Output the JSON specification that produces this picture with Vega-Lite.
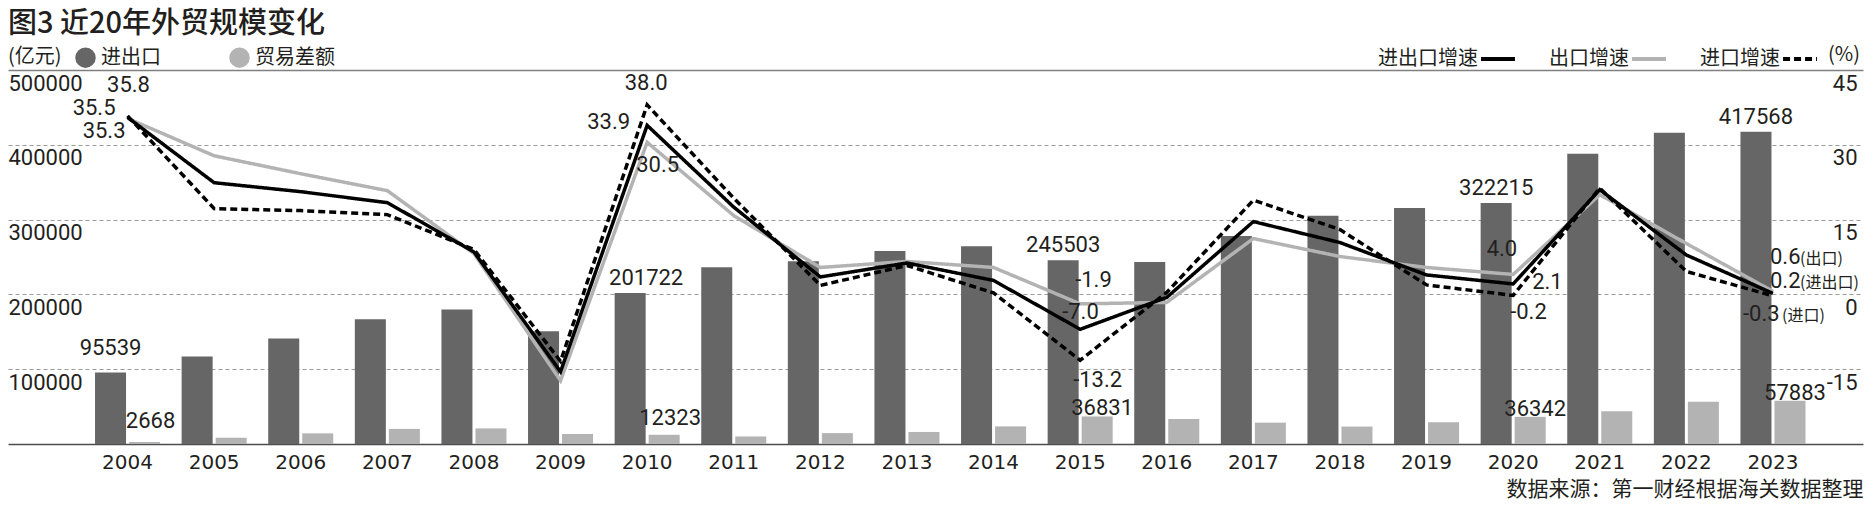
{
  "$schema": "https://vega.github.io/schema/vega-lite/v6.json",
  "width": 1855,
  "height": 374,
  "autosize": {"type": "none"},
  "padding": {"left": 8, "top": 70, "right": 10, "bottom": 61},
  "background": "white",
  "title": {
    "text": "图3 近20年外贸规模变化",
    "anchor": "start",
    "frame": "group",
    "font": "Noto Sans CJK SC",
    "fontSize": 29,
    "fontWeight": 500,
    "color": "#231f20",
    "dy": 3
  },
  "datasets": {
    "trade": [
      {"year": "2004", "series": "进出口", "value": 95539}, {"year": "2004", "series": "贸易差额", "value": 2668},
      {"year": "2005", "series": "进出口", "value": 116922}, {"year": "2005", "series": "贸易差额", "value": 8374},
      {"year": "2006", "series": "进出口", "value": 140974}, {"year": "2006", "series": "贸易差额", "value": 14221},
      {"year": "2007", "series": "进出口", "value": 166924}, {"year": "2007", "series": "贸易差额", "value": 20200},
      {"year": "2008", "series": "进出口", "value": 179921}, {"year": "2008", "series": "贸易差额", "value": 20868},
      {"year": "2009", "series": "进出口", "value": 150648}, {"year": "2009", "series": "贸易差额", "value": 13411},
      {"year": "2010", "series": "进出口", "value": 201722}, {"year": "2010", "series": "贸易差额", "value": 12323},
      {"year": "2011", "series": "进出口", "value": 236402}, {"year": "2011", "series": "贸易差额", "value": 10079},
      {"year": "2012", "series": "进出口", "value": 244160}, {"year": "2012", "series": "贸易差额", "value": 14558},
      {"year": "2013", "series": "进出口", "value": 258169}, {"year": "2013", "series": "贸易差额", "value": 16094},
      {"year": "2014", "series": "进出口", "value": 264242}, {"year": "2014", "series": "贸易差额", "value": 23526},
      {"year": "2015", "series": "进出口", "value": 245503}, {"year": "2015", "series": "贸易差额", "value": 36831},
      {"year": "2016", "series": "进出口", "value": 243386}, {"year": "2016", "series": "贸易差额", "value": 33452},
      {"year": "2017", "series": "进出口", "value": 278099}, {"year": "2017", "series": "贸易差额", "value": 28519},
      {"year": "2018", "series": "进出口", "value": 305010}, {"year": "2018", "series": "贸易差额", "value": 23303},
      {"year": "2019", "series": "进出口", "value": 315627}, {"year": "2019", "series": "贸易差额", "value": 29088},
      {"year": "2020", "series": "进出口", "value": 322215}, {"year": "2020", "series": "贸易差额", "value": 36342},
      {"year": "2021", "series": "进出口", "value": 388000}, {"year": "2021", "series": "贸易差额", "value": 43687},
      {"year": "2022", "series": "进出口", "value": 416000}, {"year": "2022", "series": "贸易差额", "value": 56600},
      {"year": "2023", "series": "进出口", "value": 417568}, {"year": "2023", "series": "贸易差额", "value": 57883}
    ],
    "rates": [
      {"year": "2004", "series": "出口增速", "value": 35.3}, {"year": "2005", "series": "出口增速", "value": 27.8},
      {"year": "2006", "series": "出口增速", "value": 24.2}, {"year": "2007", "series": "出口增速", "value": 20.8},
      {"year": "2008", "series": "出口增速", "value": 8.2}, {"year": "2009", "series": "出口增速", "value": -17.3},
      {"year": "2010", "series": "出口增速", "value": 30.5}, {"year": "2011", "series": "出口增速", "value": 15.8},
      {"year": "2012", "series": "出口增速", "value": 5.4}, {"year": "2013", "series": "出口增速", "value": 6.6},
      {"year": "2014", "series": "出口增速", "value": 5.4}, {"year": "2015", "series": "出口增速", "value": -1.9},
      {"year": "2016", "series": "出口增速", "value": -1.6}, {"year": "2017", "series": "出口增速", "value": 11.2},
      {"year": "2018", "series": "出口增速", "value": 7.6}, {"year": "2019", "series": "出口增速", "value": 5.4},
      {"year": "2020", "series": "出口增速", "value": 4.0}, {"year": "2021", "series": "出口增速", "value": 20.0},
      {"year": "2022", "series": "出口增速", "value": 10.2}, {"year": "2023", "series": "出口增速", "value": 0.6},
      {"year": "2004", "series": "进出口增速", "value": 35.5}, {"year": "2005", "series": "进出口增速", "value": 22.4},
      {"year": "2006", "series": "进出口增速", "value": 20.6}, {"year": "2007", "series": "进出口增速", "value": 18.4},
      {"year": "2008", "series": "进出口增速", "value": 8.5}, {"year": "2009", "series": "进出口增速", "value": -15.5},
      {"year": "2010", "series": "进出口增速", "value": 33.9}, {"year": "2011", "series": "进出口增速", "value": 17.5},
      {"year": "2012", "series": "进出口增速", "value": 3.5}, {"year": "2013", "series": "进出口增速", "value": 6.3},
      {"year": "2014", "series": "进出口增速", "value": 2.8}, {"year": "2015", "series": "进出口增速", "value": -7.0},
      {"year": "2016", "series": "进出口增速", "value": -0.6}, {"year": "2017", "series": "进出口增速", "value": 14.6},
      {"year": "2018", "series": "进出口增速", "value": 10.4}, {"year": "2019", "series": "进出口增速", "value": 3.9},
      {"year": "2020", "series": "进出口增速", "value": 2.1}, {"year": "2021", "series": "进出口增速", "value": 21.0},
      {"year": "2022", "series": "进出口增速", "value": 7.9}, {"year": "2023", "series": "进出口增速", "value": 0.2},
      {"year": "2004", "series": "进口增速", "value": 35.8}, {"year": "2005", "series": "进口增速", "value": 17.2},
      {"year": "2006", "series": "进口增速", "value": 16.8}, {"year": "2007", "series": "进口增速", "value": 16.0},
      {"year": "2008", "series": "进口增速", "value": 9.0}, {"year": "2009", "series": "进口增速", "value": -13.4},
      {"year": "2010", "series": "进口增速", "value": 38.0}, {"year": "2011", "series": "进口增速", "value": 19.3},
      {"year": "2012", "series": "进口增速", "value": 1.8}, {"year": "2013", "series": "进口增速", "value": 5.8},
      {"year": "2014", "series": "进口增速", "value": 0.3}, {"year": "2015", "series": "进口增速", "value": -13.2},
      {"year": "2016", "series": "进口增速", "value": 0.4}, {"year": "2017", "series": "进口增速", "value": 18.9},
      {"year": "2018", "series": "进口增速", "value": 13.0}, {"year": "2019", "series": "进口增速", "value": 1.9},
      {"year": "2020", "series": "进口增速", "value": -0.2}, {"year": "2021", "series": "进口增速", "value": 21.3},
      {"year": "2022", "series": "进口增速", "value": 4.6}, {"year": "2023", "series": "进口增速", "value": -0.3}
    ],
    "rateLabels": [
      {"year": "2004", "series": "进口增速", "value": 35.8, "label": "35.8", "note": ""},
      {"year": "2004", "series": "进出口增速", "value": 35.5, "label": "35.5", "note": ""},
      {"year": "2004", "series": "出口增速", "value": 35.3, "label": "35.3", "note": ""},
      {"year": "2010", "series": "进口增速", "value": 38.0, "label": "38.0", "note": ""},
      {"year": "2010", "series": "进出口增速", "value": 33.9, "label": "33.9", "note": ""},
      {"year": "2010", "series": "出口增速", "value": 30.5, "label": "30.5", "note": ""},
      {"year": "2015", "series": "出口增速", "value": -1.9, "label": "-1.9", "note": ""},
      {"year": "2015", "series": "进出口增速", "value": -7.0, "label": "-7.0", "note": ""},
      {"year": "2015", "series": "进口增速", "value": -13.2, "label": "-13.2", "note": ""},
      {"year": "2020", "series": "出口增速", "value": 4.0, "label": "4.0", "note": ""},
      {"year": "2020", "series": "进出口增速", "value": 2.1, "label": "2.1", "note": ""},
      {"year": "2020", "series": "进口增速", "value": -0.2, "label": "-0.2", "note": ""},
      {"year": "2023", "series": "出口增速", "value": 0.6, "label": "0.6", "note": "(出口)"},
      {"year": "2023", "series": "进出口增速", "value": 0.2, "label": "0.2", "note": "(进出口)"},
      {"year": "2023", "series": "进口增速", "value": -0.3, "label": "-0.3", "note": "(进口)"}
    ]
  },
  "config": {
    "view": {"stroke": null},
    "text": {"font": "Roboto", "fontSize": 22, "color": "#231f20", "baseline": "alphabetic"},
    "legend": {
      "labelFont": "Noto Sans CJK SC", "labelFontSize": 20, "labelColor": "#231f20",
      "titleFont": "Noto Sans CJK SC", "titleFontSize": 20, "titleFontWeight": "normal", "titleColor": "#231f20",
      "padding": 0
    }
  },
  "encoding": {
    "x": {
      "field": "year", "type": "ordinal",
      "scale": {"paddingInner": 0, "paddingOuter": 0.71, "align": 0.62},
      "axis": {
        "orient": "bottom", "labelAngle": 0, "domain": true, "domainColor": "#4d4d4d", "domainWidth": 1.5,
        "ticks": false, "tickSize": 0, "grid": false,
        "labelFont": "DejaVu Sans", "labelFontSize": 20, "labelColor": "#231f20", "labelPadding": 8,
        "title": "数据来源：第一财经根据海关数据整理", "titleAnchor": "end", "titleAlign": "right",
        "titleFont": "Noto Sans CJK SC", "titleFontSize": 21, "titleFontWeight": "normal", "titleColor": "#231f20",
        "titlePadding": 6
      }
    }
  },
  "layer": [
    {
      "data": {"name": "trade"},
      "encoding": {
        "xOffset": {"field": "series", "type": "nominal", "scale": {"domain": ["进出口", "贸易差额"], "paddingInner": 0.088, "paddingOuter": 0.317}},
        "y": {
          "field": "value", "type": "quantitative",
          "scale": {"domain": [0, 500000], "nice": false},
          "axis": {
            "orient": "left", "values": [100000, 200000, 300000, 400000, 500000], "format": "d",
            "grid": true,
            "gridColor": {"condition": {"test": "datum.value === 500000", "value": "#808080"}, "value": "#9a9a9a"},
            "gridDash": {"condition": {"test": "datum.value === 500000", "value": []}, "value": [4, 3]},
            "gridWidth": {"condition": {"test": "datum.value === 500000", "value": 1.5}, "value": 1},
            "domain": false, "ticks": false, "tickSize": 0,
            "labelAlign": "left", "labelBaseline": "top", "labelPadding": 0, "labelOffset": 3,
            "labelFont": "Roboto", "labelFontSize": 22, "labelColor": "#231f20",
            "labelFlush": false, "labelOverlap": false, "labelBound": false,
            "title": null
          }
        }
      },
      "layer": [
        {
          "mark": {"type": "bar"},
          "encoding": {
            "color": {
              "field": "series", "type": "nominal",
              "scale": {"domain": ["进出口", "贸易差额"], "range": ["#666666", "#b3b3b3"]},
              "legend": {
                "orient": "none", "legendX": 0, "legendY": -23, "direction": "horizontal",
                "title": "(亿元)", "titleOrient": "left", "titlePadding": 13,
                "symbolType": "circle", "symbolSize": 420, "symbolStrokeWidth": 0,
                "labelOffset": 5, "columnPadding": 68
              }
            }
          }
        },
        {
          "transform": [{"filter": {"field": "series", "equal": "进出口"}}, {"filter": {"field": "year", "oneOf": ["2015", "2020", "2023"]}}],
          "mark": {"type": "text", "align": "center", "dy": -8},
          "encoding": {"text": {"field": "value", "type": "quantitative", "format": "d"}}
        },
        {
          "transform": [{"filter": {"field": "series", "equal": "进出口"}}, {"filter": {"field": "year", "equal": "2010"}}],
          "mark": {"type": "text", "align": "center", "dx": 16, "dy": -8},
          "encoding": {"text": {"field": "value", "type": "quantitative", "format": "d"}}
        },
        {
          "transform": [{"filter": {"field": "series", "equal": "进出口"}}, {"filter": {"field": "year", "equal": "2004"}}],
          "mark": {"type": "text", "align": "center", "dy": -18},
          "encoding": {"text": {"field": "value", "type": "quantitative", "format": "d"}}
        },
        {
          "transform": [{"filter": {"field": "series", "equal": "贸易差额"}}, {"filter": {"field": "year", "oneOf": ["2015", "2020", "2023"]}}],
          "mark": {"type": "text", "align": "center", "dx": 5, "dy": -1},
          "encoding": {"text": {"field": "value", "type": "quantitative", "format": "d"}}
        },
        {
          "transform": [{"filter": {"field": "series", "equal": "贸易差额"}}, {"filter": {"field": "year", "equal": "2004"}}],
          "mark": {"type": "text", "align": "center", "dx": 6, "dy": -14},
          "encoding": {"text": {"field": "value", "type": "quantitative", "format": "d"}}
        },
        {
          "transform": [{"filter": {"field": "series", "equal": "贸易差额"}}, {"filter": {"field": "year", "equal": "2010"}}],
          "mark": {"type": "text", "align": "center", "dx": 6, "dy": -10},
          "encoding": {"text": {"field": "value", "type": "quantitative", "format": "d"}}
        }
      ]
    },
    {
      "data": {"name": "rates"},
      "encoding": {
        "y": {
          "field": "value", "type": "quantitative",
          "scale": {"domain": [-30, 45], "nice": false, "zero": false},
          "axis": {
            "orient": "right", "values": [-15, 0, 15, 30, 45],
            "labelExpr": "replace(datum.label, '\u2212', '-')",
            "grid": false, "domain": false, "ticks": false, "tickSize": 0,
            "labelAlign": "right", "labelBaseline": "top", "labelPadding": -6, "labelOffset": 3,
            "labelFont": "Roboto", "labelFontSize": 22, "labelColor": "#231f20",
            "labelFlush": false, "labelOverlap": false, "labelBound": false,
            "title": null
          }
        }
      },
      "layer": [
        {
          "mark": {"type": "line", "strokeWidth": 3.5},
          "encoding": {
            "color": {
              "field": "series", "type": "nominal",
              "scale": {"domain": ["进出口增速", "出口增速", "进口增速"], "range": ["#000000", "#b3b3b3", "#000000"]},
              "legend": {
                "orient": "none", "legendX": 1471, "legendY": -30, "direction": "horizontal",
                "title": "(%)", "titleOrient": "right", "titlePadding": 3,
                "symbolType": "stroke", "symbolSize": 1150, "symbolStrokeWidth": 4,
                "labelAlign": "right", "labelOffset": -39, "columnPadding": 26
              }
            },
            "strokeDash": {
              "field": "series", "type": "nominal",
              "scale": {"domain": ["进出口增速", "出口增速", "进口增速"], "range": [[1, 0], [1, 0], [7, 4]]},
              "legend": {
                "orient": "none", "legendX": 1471, "legendY": -30, "direction": "horizontal",
                "title": "(%)", "titleOrient": "right", "titlePadding": 3,
                "symbolType": "stroke", "symbolSize": 1150, "symbolStrokeWidth": 4,
                "labelAlign": "right", "labelOffset": -39, "columnPadding": 26
              }
            }
          }
        },
        {
          "data": {"name": "rateLabels"},
          "encoding": {"text": {"field": "label", "type": "nominal"}},
          "layer": [
            {"transform": [{"filter": {"field": "label", "equal": "35.8"}}], "mark": {"type": "text", "align": "center", "dx": 1, "dy": -24}},
            {"transform": [{"filter": {"field": "label", "equal": "35.5"}}], "mark": {"type": "text", "align": "right", "dx": -12, "dy": -2}},
            {"transform": [{"filter": {"field": "label", "equal": "35.3"}}], "mark": {"type": "text", "align": "right", "dx": -2, "dy": 20}},
            {"transform": [{"filter": {"field": "label", "equal": "38.0"}}], "mark": {"type": "text", "align": "center", "dx": -1, "dy": -15}},
            {"transform": [{"filter": {"field": "label", "equal": "33.9"}}], "mark": {"type": "text", "align": "right", "dx": -17, "dy": 4}},
            {"transform": [{"filter": {"field": "label", "equal": "30.5"}}], "mark": {"type": "text", "align": "left", "dx": -11, "dy": 30}},
            {"transform": [{"filter": {"field": "label", "equal": "-1.9"}}], "mark": {"type": "text", "align": "left", "dx": -5, "dy": -17}},
            {"transform": [{"filter": {"field": "label", "equal": "-7.0"}}], "mark": {"type": "text", "align": "left", "dx": -18, "dy": -10}},
            {"transform": [{"filter": {"field": "label", "equal": "-13.2"}}], "mark": {"type": "text", "align": "left", "dx": -7, "dy": 27}},
            {"transform": [{"filter": {"field": "label", "equal": "4.0"}}], "mark": {"type": "text", "align": "right", "dx": 4, "dy": -18}},
            {"transform": [{"filter": {"field": "label", "equal": "2.1"}}], "mark": {"type": "text", "align": "left", "dx": 19, "dy": 5}},
            {"transform": [{"filter": {"field": "label", "equal": "-0.2"}}], "mark": {"type": "text", "align": "left", "dx": -3, "dy": 24}},
            {"transform": [{"filter": {"field": "label", "equal": "0.6"}}], "mark": {"type": "text", "align": "left", "dx": -3, "dy": -27}},
            {"transform": [{"filter": {"field": "label", "equal": "0.2"}}], "mark": {"type": "text", "align": "left", "dx": -3, "dy": -5}},
            {"transform": [{"filter": {"field": "label", "equal": "-0.3"}}], "mark": {"type": "text", "align": "left", "dx": -30, "dy": 25}},
            {"transform": [{"filter": {"field": "label", "equal": "0.6"}}], "mark": {"type": "text", "align": "left", "dx": 27, "dy": -27, "font": "Noto Sans CJK SC", "fontSize": 16}, "encoding": {"text": {"field": "note", "type": "nominal"}}},
            {"transform": [{"filter": {"field": "label", "equal": "0.2"}}], "mark": {"type": "text", "align": "left", "dx": 27, "dy": -5, "font": "Noto Sans CJK SC", "fontSize": 16}, "encoding": {"text": {"field": "note", "type": "nominal"}}},
            {"transform": [{"filter": {"field": "label", "equal": "-0.3"}}], "mark": {"type": "text", "align": "left", "dx": 9, "dy": 25, "font": "Noto Sans CJK SC", "fontSize": 16}, "encoding": {"text": {"field": "note", "type": "nominal"}}}
          ]
        }
      ]
    }
  ],
  "resolve": {"scale": {"y": "independent", "color": "independent", "strokeDash": "independent"}, "axis": {"y": "independent"}}
}
